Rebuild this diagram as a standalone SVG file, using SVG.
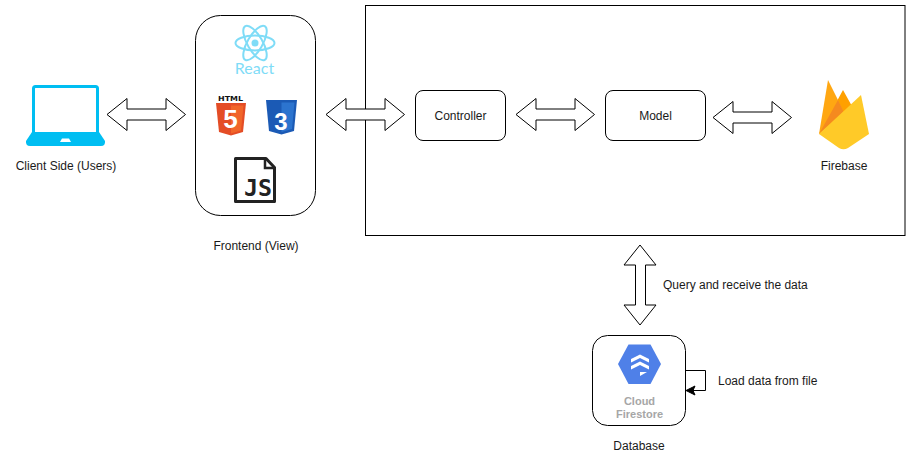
<svg xmlns="http://www.w3.org/2000/svg" width="911" height="461" viewBox="0 0 911 461">
<style>
text{font-family:"Liberation Sans",Arial,sans-serif;font-size:12px;fill:#1a1a1a}
.m{text-anchor:middle}
.box{fill:#fff;stroke:#000;stroke-width:1}
.flow{fill:#fff;stroke:#000;stroke-width:1;stroke-linejoin:miter}
.link{fill:none;stroke:#000;stroke-width:1}
</style>
<defs>
<path id="dbl" d="M0 0L20 -16V-5.500H59V-16L78.500 0L59 16V5.500H20V16Z"/>
</defs>
<rect width="911" height="461" fill="#fff"/>
<g id="backend"><rect x="365.500" y="5.500" width="539.500" height="230" fill="none" stroke="#000"/></g>
<g id="connectors">
<use href="#dbl" x="107" y="114.500" class="flow"/>
<use href="#dbl" x="326" y="114.500" class="flow"/>
<use href="#dbl" x="516" y="114.500" class="flow"/>
<use href="#dbl" x="713" y="117.500" class="flow"/>
<path class="flow" d="M640 245L656 265H645.500V305H656L640 325L624 305H635.500V265H624Z"/>
<path class="link" d="M686 370.500H705.500V390.500H693"/>
<path d="M686 390.500L695 386L693 390.500L695 395Z" fill="#000" stroke="#000"/>
</g>
<g id="client">
<rect x="33.500" y="86.500" width="64" height="47" rx="2" fill="#fff" stroke="#00bef2" stroke-width="3"/>
<path d="M32 132H99L105 141Q105.500 146 101 146H30Q25.500 146 26 141Z" fill="#00bef2"/>
<path d="M60 142L62 138.500H69L71 142Z" fill="#fff"/>
<text x="66" y="170" class="m">Client Side (Users)</text>
</g>
<g id="frontend">
<rect x="195.500" y="15.500" width="120" height="200" rx="25" class="box"/>
<g fill="none" stroke="#7fdcf7" stroke-width="2">
<ellipse cx="255" cy="43" rx="19.500" ry="7.500"/>
<ellipse cx="255" cy="43" rx="19.500" ry="7.500" transform="rotate(60 255 43)"/>
<ellipse cx="255" cy="43" rx="19.500" ry="7.500" transform="rotate(120 255 43)"/>
</g>
<circle cx="255" cy="43" r="3.500" fill="#7fdcf7"/>
<text x="254.500" y="73.500" class="m" style="font-size:16px;fill:#7fdcf7;font-family:'Lato','Liberation Sans',sans-serif">React</text>
<text x="230.500" y="100.500" class="m" style="font-size:7px;font-weight:bold;fill:#111;font-family:'DejaVu Sans',sans-serif" textLength="25" lengthAdjust="spacingAndGlyphs">HTML</text>
<path d="M216 103H246L243 132L231 135.500L219 132Z" fill="#e44d26"/>
<path d="M231 105.500H243.500L241 130.500L231 133.500Z" fill="#f16529"/>
<text x="230.500" y="128" class="m" style="font-size:26px;font-weight:bold;fill:#fff">5</text>
<path d="M266 100H297L294 131L281.500 134.500L269 131Z" fill="#1b5ab5"/>
<path d="M281.500 102.500H294.500L292 129L281.500 132Z" fill="#2c74cf"/>
<text x="281" y="130" class="m" style="font-size:24px;font-weight:bold;fill:#fff">3</text>
<path d="M235.500 158.500H266L274.500 167.500V201.500H235.500Z" fill="#fff" stroke="#222" stroke-width="3" stroke-linejoin="round"/>
<path d="M265 158.500V168H274.500" fill="none" stroke="#222" stroke-width="2.500"/>
<text x="258" y="196" class="m" style="font-size:23px;font-weight:bold;fill:#222;font-family:'DejaVu Sans Mono',monospace" textLength="28" lengthAdjust="spacingAndGlyphs">JS</text>
<text x="256" y="250" class="m">Frontend (View)</text>
</g>
<g id="controller"><rect x="415.500" y="90.500" width="90" height="50" rx="7.500" class="box"/><text x="460.500" y="120" class="m">Controller</text></g>
<g id="model"><rect x="605.500" y="90.500" width="100" height="50" rx="7.500" class="box"/><text x="655.500" y="120" class="m">Model</text></g>
<g id="firebase">
<path d="M819 134L843 90L853 108L843.500 114Z" fill="#ffa000"/>
<path d="M819 134L828 80L838 100L843.500 112Z" fill="#ffa712"/>
<path d="M819 134L838 100L843.500 111.500Z" fill="#f58a1f"/>
<path d="M819 134L861 95L869 134L848 148Q843.500 150.500 839 148Z" fill="#ffca28"/>
<text x="844" y="170" class="m">Firebase</text>
</g>
<g id="query-label"><text x="663" y="289">Query and receive the data</text></g>
<g id="database">
<rect x="592.500" y="335.500" width="93" height="90" rx="15" class="box"/>
<path d="M628.500 344.500H650.500L661 364L650.500 384H628.500L618 364Z" fill="#4f80e8"/>
<path d="M631 359L640 354.500L649 359V362.500L640 358L631 362.500ZM631 366L640 361.500L649 366V369.500L640 365L631 369.500ZM640 372L647 372L640 376Z" fill="#fff"/>
<text x="639.500" y="405" class="m" style="font-size:11px;font-weight:bold;fill:#a6a6a6">Cloud</text>
<text x="639.500" y="418" class="m" style="font-size:11px;font-weight:bold;fill:#a6a6a6">Firestore</text>
<text x="639" y="450" class="m">Database</text>
</g>
<g id="load-label"><text x="718" y="385">Load data from file</text></g>
</svg>
